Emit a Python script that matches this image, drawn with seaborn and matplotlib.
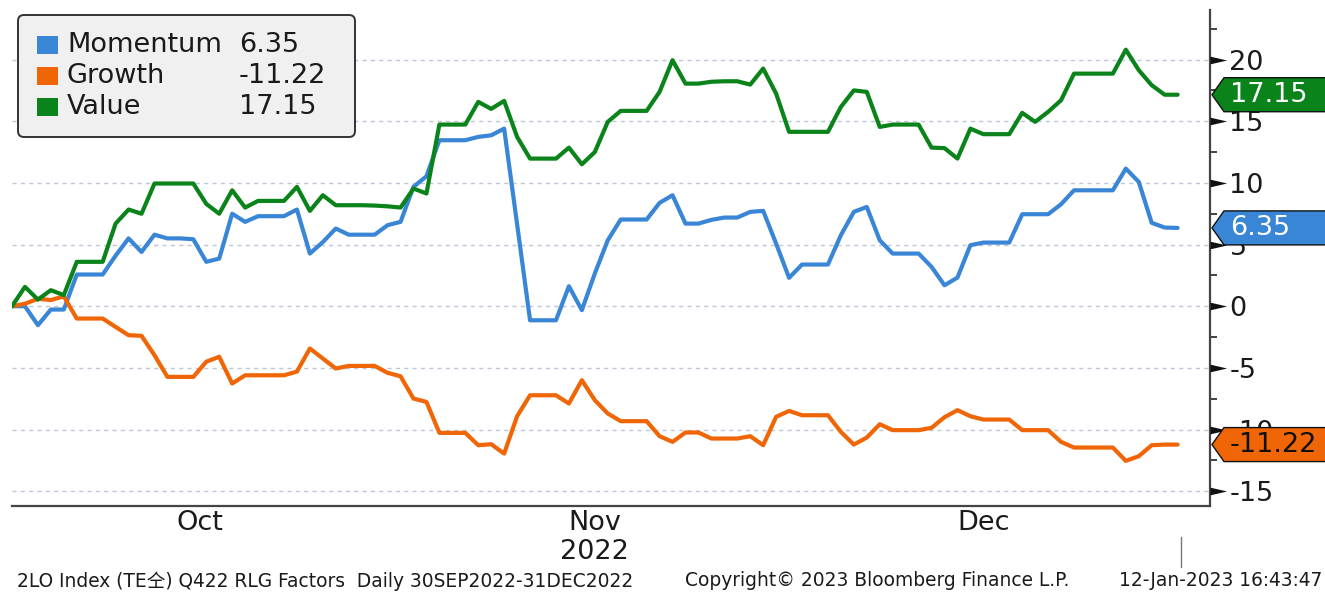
import numpy as np
import pandas as pd
import matplotlib
matplotlib.use("Agg")
import matplotlib.pyplot as plt
import seaborn as sns
from matplotlib.path import Path
from matplotlib.patches import Polygon, FancyBboxPatch, Rectangle
from matplotlib.lines import Line2D
from matplotlib.transforms import IdentityTransform

# Daily points, weekends carry the previous value
dates = pd.date_range("2022-10-02", "2022-12-31", freq="D")

names = ["Momentum", "Growth", "Value"]
colors = ["#3a86d6", "#f06505", "#0a841a"]
tag_text_colors = ["white", "#111111", "white"]

momentum = [0, 0.0, -1.54, -0.27, -0.27, 2.57, 2.57, 2.57, 4.1, 5.5,
            4.4, 5.8, 5.5, 5.5, 5.43, 3.6, 3.86, 7.5, 6.84, 7.3,
            7.3, 7.3, 7.84, 4.27, 5.2, 6.3, 5.8, 5.8, 5.8, 6.57,
            6.84, 9.68, 10.54, 13.46, 13.46, 13.46, 13.73, 13.86, 14.4, 6.65,
            -1.14, -1.14, -1.14, 1.62, -0.32, 2.65, 5.35, 7.03, 7.03, 7.03,
            8.38, 9.0, 6.7, 6.7, 7.0, 7.19, 7.19, 7.65, 7.73, 5.08,
            2.3, 3.38, 3.38, 3.38, 5.76, 7.65, 8.05, 5.35, 4.27, 4.27,
            4.27, 3.19, 1.7, 2.32, 4.95, 5.16, 5.16, 5.16, 7.46, 7.46,
            7.46, 8.27, 9.4, 9.4, 9.4, 9.4, 11.16, 10.08, 6.76, 6.38,
            6.35]
growth = [0, 0.2, 0.6, 0.5, 0.8, -1.0, -1.0, -1.0, -1.68, -2.35,
          -2.4, -3.97, -5.73, -5.73, -5.73, -4.5, -4.1, -6.27, -5.6, -5.6,
          -5.6, -5.6, -5.3, -3.43, -4.24, -5.05, -4.84, -4.84, -4.84, -5.4,
          -5.68, -7.49, -7.76, -10.27, -10.27, -10.27, -11.27, -11.19, -11.95, -8.92,
          -7.22, -7.22, -7.22, -7.89, -6.0, -7.62, -8.7, -9.32, -9.32, -9.32,
          -10.54, -11.0, -10.24, -10.24, -10.73, -10.73, -10.73, -10.54, -11.27, -8.97,
          -8.49, -8.84, -8.84, -8.84, -10.19, -11.22, -10.65, -9.57, -10.05, -10.05,
          -10.05, -9.86, -9.0, -8.43, -8.92, -9.19, -9.19, -9.19, -10.05, -10.05,
          -10.05, -11.0, -11.46, -11.46, -11.46, -11.46, -12.54, -12.16, -11.27, -11.22,
          -11.22]
value = [0, 1.57, 0.54, 1.3, 0.9, 3.6, 3.6, 3.6, 6.7, 7.84,
         7.5, 9.95, 9.95, 9.95, 9.95, 8.3, 7.5, 9.4, 8.0, 8.54,
         8.54, 8.54, 9.68, 7.73, 9.0, 8.19, 8.19, 8.19, 8.16, 8.1,
         8.0, 9.54, 9.14, 14.73, 14.73, 14.73, 16.57, 16.0, 16.65, 13.73,
         11.97, 11.97, 11.97, 12.86, 11.51, 12.5, 14.95, 15.84, 15.84, 15.84,
         17.38, 19.95, 18.05, 18.05, 18.2, 18.24, 18.24, 17.97, 19.27, 17.24,
         14.14, 14.14, 14.14, 14.14, 16.16, 17.5, 17.38, 14.54, 14.73, 14.73,
         14.73, 12.86, 12.82, 11.97, 14.4, 13.95, 13.95, 13.95, 15.68, 14.95,
         15.76, 16.7, 18.86, 18.86, 18.86, 18.86, 20.8, 19.14, 17.92, 17.15,
         17.15]

yticks = [-15, -10, -5, 0, 5, 10, 15, 20]
yminor = [-12.5, -7.5, -2.5, 2.5, 7.5, 12.5, 17.5, 22.5]
month_ends = pd.to_datetime(["2022-10-31", "2022-11-30", "2022-12-31"])
month_mids = pd.to_datetime(["2022-10-16 12:00", "2022-11-16 00:00",
                             "2022-12-16 00:00"])
month_labels = ["Oct", "Nov\n2022", "Dec"]

footer_left = "2LO Index (TE仝) Q422 RLG Factors  Daily 30SEP2022-31DEC2022"
footer_mid = "Copyright© 2023 Bloomberg Finance L.P."
footer_right = "12-Jan-2023 16:43:47"

series = [momentum, growth, value]
df = pd.DataFrame({
    "date": np.tile(dates, 3),
    "factor": np.repeat(names, len(dates)),
    "value": np.concatenate(series),
})

sns.set_style("white")
plt.rcParams["font.family"] = ["DejaVu Sans", "Noto Sans CJK SC"]
plt.rcParams["axes.unicode_minus"] = False

W, H = 1325, 592
fig = plt.figure(figsize=(W / 100, H / 100), dpi=100)
ax = fig.add_axes([12 / W, 86 / H, (1210 - 12) / W, (506 - 9.5) / H])

sns.lineplot(data=df, x="date", y="value", hue="factor", hue_order=names,
             palette=dict(zip(names, colors)), lw=3, errorbar=None,
             legend=False, ax=ax)

ax.set_xlim(dates[0], dates[0] + pd.Timedelta(days=92.5))
ax.set_ylim(-16.2, 24.06)
ax.set_xlabel("")
ax.set_ylabel("")

ax.set_xticks(month_ends)
ax.set_xticklabels([])
ax.set_xticks(month_mids, minor=True)
ax.set_xticklabels(month_labels, minor=True, fontsize=19.5, color="#1a1a1a",
                   linespacing=1.15)
ax.tick_params(axis="x", which="major", length=6, width=1.3, color="#333333",
               direction="out")
ax.tick_params(axis="x", which="minor", length=0, pad=3)

ax.yaxis.tick_right()
ax.set_yticks(yticks)
ax.set_yticks(yminor, minor=True)
ax.tick_params(axis="y", which="major", length=0, pad=14, labelsize=19.5,
               labelcolor="#1a1a1a")
ax.tick_params(axis="y", which="minor", length=5, width=1.3, color="#333333")

for s in ["left", "top"]:
    ax.spines[s].set_visible(False)
for s in ["bottom", "right"]:
    ax.spines[s].set_color("#444444")
    ax.spines[s].set_linewidth(1.6)

ax.grid(axis="y", which="major", color="#bfc6d8", linestyle=(0, (3, 3)), lw=1)
ax.grid(axis="x", visible=False)

# Bloomberg style arrow ticks on the right axis
caret = Path([(0, -0.23), (1, 0), (0, 0.23), (0, -0.23)],
             [Path.MOVETO, Path.LINETO, Path.LINETO, Path.CLOSEPOLY])
ax.plot(np.ones(len(yticks)), yticks, ls="none", marker=caret, ms=24,
        mfc="#111111", mec="none", transform=ax.get_yaxis_transform(),
        clip_on=False, zorder=5)

T = IdentityTransform()


def fy(y):
    return H - y


# last value tags on the right
xs = ax.transAxes.transform((1, 0))[0]
for vals, col, tcol in zip(series, colors, tag_text_colors):
    v = vals[-1]
    yd = ax.transData.transform((0, v))[1]
    poly = Polygon([(xs + 2, yd), (xs + 14, yd + 17), (W + 5, yd + 17),
                    (W + 5, yd - 17), (xs + 14, yd - 17)], closed=True,
                   fc=col, ec="#111111", lw=1.0, transform=T, zorder=6)
    fig.add_artist(poly)
    fig.text(xs + 20, yd, f"{v:.2f}", transform=T, color=tcol,
             fontsize=19.5, va="center", ha="left", zorder=7)

# legend box
fig.add_artist(FancyBboxPatch((18, fy(137)), 337, 122,
                              boxstyle="round,pad=0,rounding_size=6",
                              fc="#f0f0f0", ec="#333333", lw=1.4,
                              transform=T, zorder=6))
for i, (nm, col, vals) in enumerate(zip(names, colors, series)):
    yc = 45 + 31 * i
    fig.add_artist(Rectangle((37, fy(yc) - 9), 21, 18, fc=col, ec="none",
                             transform=T, zorder=7))
    fig.text(67, fy(yc), nm, transform=T, fontsize=19.5, color="#1a1a1a",
             va="center", ha="left", zorder=7)
    fig.text(239, fy(yc), f"{vals[-1]:.2f}", transform=T, fontsize=19.5,
             color="#1a1a1a", va="center", ha="left", zorder=7)

# footer
fig.add_artist(Line2D([1181, 1181], [fy(537), fy(567)], transform=T,
                      color="#777777", lw=1))
fig.text(17, fy(581), footer_left, transform=T, fontsize=13.4,
         color="#1a1a1a", va="center", ha="left")
fig.text(685, fy(581), footer_mid, transform=T, fontsize=13.4,
         color="#1a1a1a", va="center", ha="left")
fig.text(1322, fy(581), footer_right, transform=T, fontsize=13.4,
         color="#1a1a1a", va="center", ha="right")

fig.savefig("out.png", dpi=100)
